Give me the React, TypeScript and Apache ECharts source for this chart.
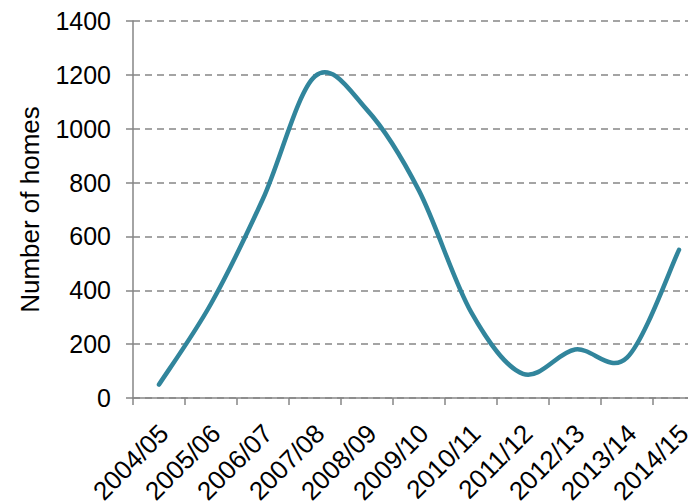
import React, { useEffect, useRef } from 'react';
import * as echarts from 'echarts';

const categories = ['2004/05', '2005/06', '2006/07', '2007/08', '2008/09', '2009/10', '2010/11', '2011/12', '2012/13', '2013/14', '2014/15'];
const homes = [50, 350, 740, 1195, 1070, 770, 320, 90, 180, 150, 550];
const yMin = 0;
const yMax = 1400;
const yStep = 200;
const yTitle = 'Number of homes';

export default function App() {
  const ref = useRef<HTMLDivElement>(null);
  useEffect(() => {
    if (!ref.current) return;
    const chart = echarts.init(ref.current, undefined, { renderer: 'svg' });
    const axisColor = '#868686';
    const font = '"Liberation Sans", Arial, Helvetica, sans-serif';
    chart.setOption({
      animation: false,
      grid: { left: 133, top: 21, right: -17, bottom: 104, containLabel: false, outerBoundsMode: 'none' },
      xAxis: {
        type: 'category',
        data: categories,
        boundaryGap: true,
        axisLine: { show: true, lineStyle: { color: axisColor, width: 1.5 } },
        axisTick: { show: true, alignWithLabel: false, length: 7, lineStyle: { color: axisColor, width: 1.5 } },
        axisLabel: {
          interval: 0,
          rotate: 45,
          fontSize: 26,
          lineHeight: 14,
          color: '#000',
          fontFamily: font,
          margin: 26,
          align: 'right',
          verticalAlign: 'top',
        },
        splitLine: { show: false },
      },
      yAxis: {
        type: 'value',
        min: yMin,
        max: yMax,
        interval: yStep,
        name: yTitle,
        nameLocation: 'middle',
        nameGap: 90,
        nameRotate: 90,
        nameTextStyle: { fontSize: 26, color: '#000', fontFamily: font },
        axisLine: { show: true, lineStyle: { color: axisColor, width: 1.5 } },
        axisTick: { show: true, length: 7, lineStyle: { color: axisColor, width: 1.5 } },
        axisLabel: { fontSize: 25, color: '#000', fontFamily: font, margin: 22, formatter: (v: number) => String(v) },
        splitLine: { show: true, lineStyle: { color: axisColor, width: 1.5, type: [7, 5] } },
      },
      series: [
        {
          type: 'custom',
          data: homes.map((v, i) => [i, v]),
          encode: { x: 0, y: 1 },
          clip: false,
          renderItem: (params: any, api: any) => {
            if (params.dataIndex !== 0) return null;
            const pts = homes.map((v, i) => api.coord([i, v]));
            let d = `M${pts[0][0]},${pts[0][1]}`;
            for (let i = 0; i < pts.length - 1; i++) {
              const p0 = pts[Math.max(i - 1, 0)];
              const p1 = pts[i];
              const p2 = pts[i + 1];
              const p3 = pts[Math.min(i + 2, pts.length - 1)];
              const c1x = p1[0] + (p2[0] - p0[0]) / 6;
              const c1y = p1[1] + (p2[1] - p0[1]) / 6;
              const c2x = p2[0] - (p3[0] - p1[0]) / 6;
              const c2y = p2[1] - (p3[1] - p1[1]) / 6;
              d += ` C${c1x},${c1y} ${c2x},${c2y} ${p2[0]},${p2[1]}`;
            }
            return {
              type: 'path',
              shape: { pathData: d },
              style: { fill: 'none', stroke: '#31859C', lineWidth: 4.5, lineCap: 'round', lineJoin: 'round' },
            };
          },
        },
      ],
    });
    return () => chart.dispose();
  }, []);
  return <div ref={ref} style={{ position: 'absolute', left: 0, top: 0, width: 688, height: 502 }} />;
}
